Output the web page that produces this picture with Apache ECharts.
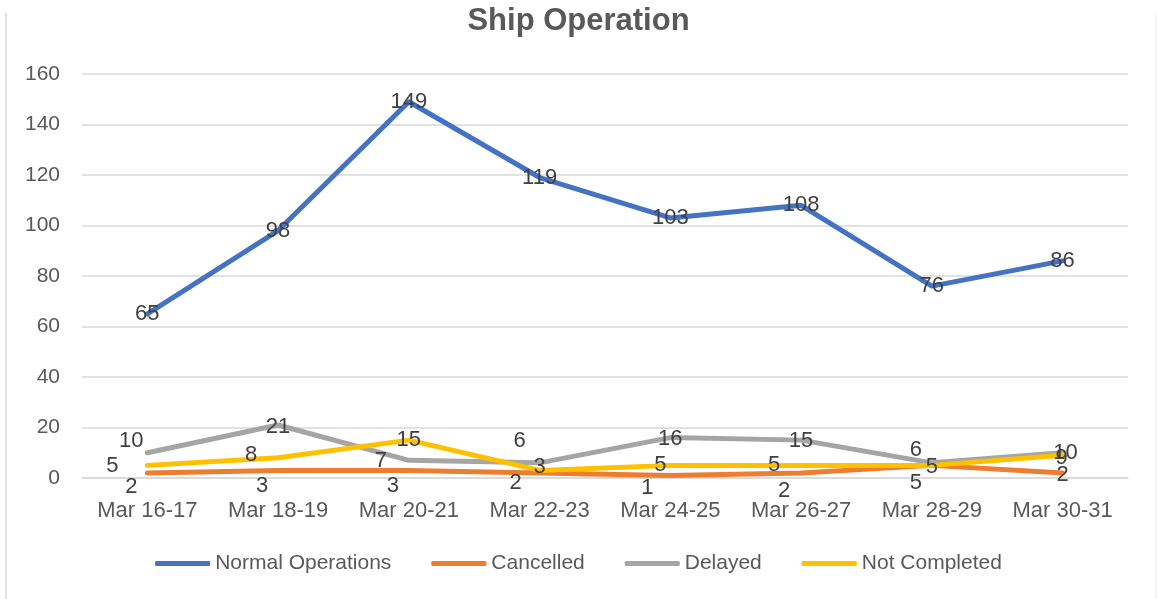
<!DOCTYPE html>
<html>
<head>
<meta charset="utf-8">
<script src="https://cdn.jsdelivr.net/npm/echarts@6/dist/echarts.min.js"></script>
<style>
    html, body { margin: 0; padding: 0; background: #fff; }
    #mainChart { width: 1157px; height: 599px; }
</style>
</head>
<body>
<div id="mainChart"></div>
<script>
var categories = ["Mar 16-17", "Mar 18-19", "Mar 20-21", "Mar 22-23", "Mar 24-25", "Mar 26-27", "Mar 28-29", "Mar 30-31"];
var normalOps = [65, 98, 149, 119, 103, 108, 76, 86];
var cancelled = [2, 3, 3, 2, 1, 2, 5, 2];
var delayed = [10, 21, 7, 6, 16, 15, 6, 10];
var notCompleted = [5, 8, 15, 3, 5, 5, 5, 9];

// label offsets (px) from each point, as placed in the original
var normalOff = [[0, 0], [0, 0], [0, 0], [0, 0], [0, 0], [0, 0], [0, 0], [0, 0]];
var cancelledOff = [[-16, 14], [-16, 16], [-16, 16], [-24, 10], [-23, 13], [-17, 18], [-16, 18], [0, 2]];
var delayedOff = [[-16, -12], [0, 2], [-28, 1], [-20, -22], [0, 1], [0, 1], [-16, -13], [3, 0]];
var notCompletedOff = [[-35, 1], [-27, -3], [0, 0], [0, -3], [-10, 0], [-27, 0], [0, 2], [-1, 3]];

function withLabels(values, offs) {
    var out = [];
    for (var i = 0; i < values.length; i++) {
        out.push({
            value: values[i],
            label: { show: true, position: offs[i], align: "center", verticalAlign: "middle" }
        });
    }
    return out;
}

var n = echarts.init(document.getElementById("mainChart"));
var font = "Liberation Sans";

function line(name, color, values, offs) {
    return {
        name: name, type: "line", showSymbol: true, symbol: "circle", symbolSize: 0.1,
        lineStyle: { color: color, width: 5, cap: "round", join: "round" },
        itemStyle: { color: color },
        label: { show: true, color: "#404040", fontSize: 22, fontFamily: font },
        labelLayout: { hideOverlap: false },
        data: withLabels(values, offs)
    };
}

n.setOption({
    backgroundColor: "#fff",
    animation: false,
    title: {
        text: "Ship Operation", left: "center", top: 1,
        textStyle: { color: "#595959", fontSize: 31, fontWeight: "bold", fontFamily: font }
    },
    legend: {
        bottom: 20, left: "center", itemWidth: 55, itemHeight: 5, itemGap: 40,
        icon: "roundRect",
        textStyle: { color: "#595959", fontSize: 21, fontFamily: font },
        data: ["Normal Operations", "Cancelled", "Delayed", "Not Completed"]
    },
    grid: { left: 82, right: 29, top: 74, bottom: 121 },
    xAxis: [{
        type: "category", data: categories,
        axisLine: { lineStyle: { color: "#d9d9d9", width: 1.5 } },
        axisTick: { show: false },
        axisLabel: { color: "#595959", fontSize: 22, fontFamily: font, margin: 22, interval: 0 }
    }],
    yAxis: [{
        type: "value", min: 0, max: 160, interval: 20,
        axisLine: { show: false }, axisTick: { show: false },
        splitLine: { lineStyle: { color: "#d9d9d9", width: 1.5 } },
        axisLabel: { color: "#595959", fontSize: 21, fontFamily: font, margin: 22 }
    }],
    graphic: [
        { type: "line", shape: { x1: 6, y1: 13, x2: 6, y2: 599 }, style: { stroke: "#d9d9d9", lineWidth: 1.5 } },
        { type: "line", shape: { x1: 1156, y1: 13, x2: 1156, y2: 599 }, style: { stroke: "#ececec", lineWidth: 1 } }
    ],
    series: [
        line("Normal Operations", "#4472C4", normalOps, normalOff),
        line("Cancelled", "#ED7D31", cancelled, cancelledOff),
        line("Delayed", "#A5A5A5", delayed, delayedOff),
        line("Not Completed", "#FFC000", notCompleted, notCompletedOff)
    ]
});
</script>
</body>
</html>
